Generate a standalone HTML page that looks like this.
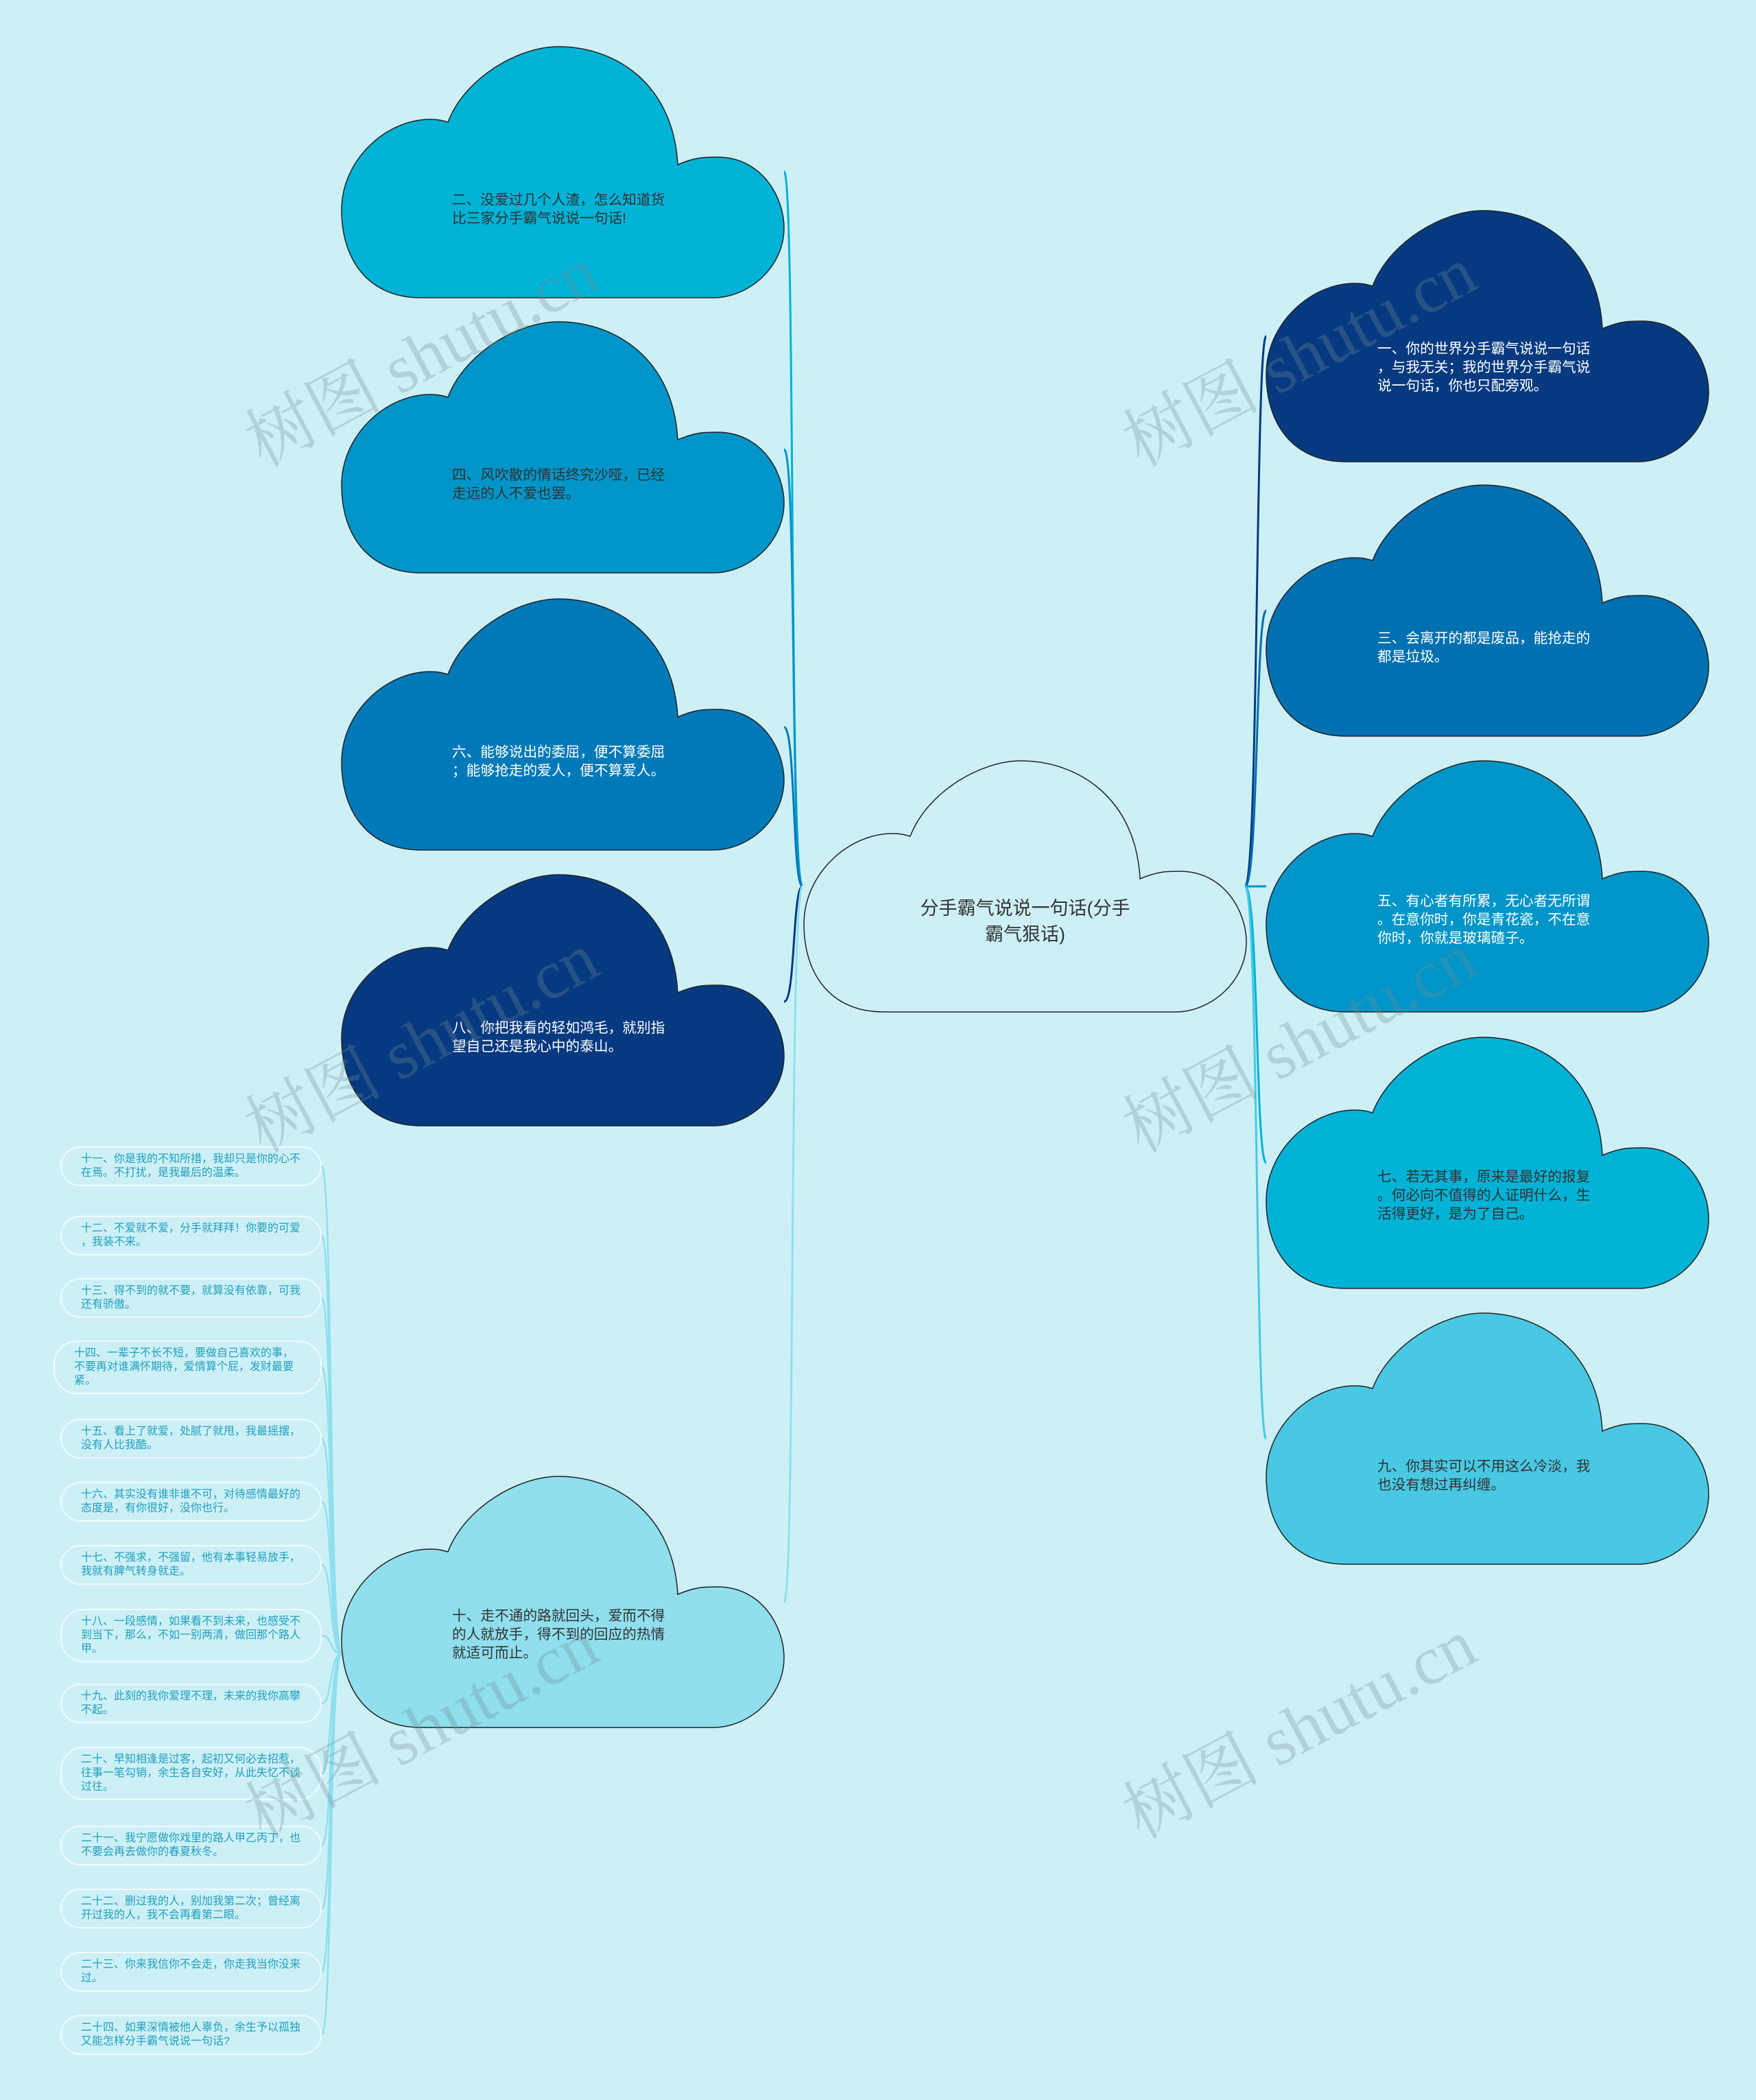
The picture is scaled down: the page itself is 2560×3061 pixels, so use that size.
<!DOCTYPE html>
<html><head><meta charset="utf-8"><style>
body{margin:0;background:#cdf0f7;}
#w{position:relative;width:2560px;height:3061px;overflow:hidden;background:#cdf0f7;font-family:"Liberation Sans","Noto Sans CJK SC",sans-serif;}
.t{position:absolute;font-size:20.7px;line-height:27px;white-space:nowrap;}
.li{position:absolute;left:88px;width:381px;box-sizing:border-box;border:2px solid #f2fbfd;border-radius:34px;color:#1f9fbd;font-size:16px;line-height:20px;padding:0 0 0 28px;display:flex;align-items:center;white-space:nowrap;}
.wm{position:absolute;font-family:"Liberation Serif","Noto Serif CJK SC",serif;font-size:100px;color:rgba(120,140,150,0.3);transform:rotate(-28deg);white-space:nowrap;}
</style></head><body><div id="w">
<svg width="2560" height="3061" style="position:absolute;left:0;top:0">
<defs>
<path id="cl" d="M155 110 C180 45 258 0 316 0 C400 0 484 55 490 172 C516 161 529 161 548 161 C613 161 645 220 645 264 C645 322 593 366 542 366 L116 366 C39 366 0 311 0 238 C0 165 65 106 129 106 C142 106 148 108 155 110 Z" stroke="#222" stroke-width="1.5"/>
</defs>
<g fill="none" stroke-width="3">
<path d="M1170 1292 C1150 1292 1160 250 1143 250" stroke="#00b2d6"/>
<path d="M1170 1292 C1152 1292 1162 655 1143 655" stroke="#0095c8"/>
<path d="M1170 1292 C1155 1292 1160 1060 1143 1060" stroke="#0079b8"/>
<path d="M1170 1292 C1155 1292 1160 1460 1143 1460" stroke="#063a80"/>
<path d="M1170 1292 C1150 1292 1160 2335 1143 2335" stroke="#8fdfee"/>
<path d="M1815 1292 C1835 1292 1830 490 1846 490" stroke="#063a80"/>
<path d="M1815 1292 C1835 1292 1830 890 1846 890" stroke="#0070b0"/>
<path d="M1815 1292 L1846 1292" stroke="#0095c8"/>
<path d="M1815 1292 C1835 1292 1830 1695 1846 1695" stroke="#00b2d6"/>
<path d="M1815 1292 C1835 1292 1830 2097 1846 2097" stroke="#48c8e3"/>
</g>
<g fill="none" stroke="#8fdfee" stroke-width="2.5">
<path d="M498 2410 C480 2410 485 1700 469 1700"/>
<path d="M498 2410 C480 2410 485 1801 469 1801"/>
<path d="M498 2410 C480 2410 485 1892 469 1892"/>
<path d="M498 2410 C480 2410 485 1993 469 1993"/>
<path d="M498 2410 C480 2410 485 2097 469 2097"/>
<path d="M498 2410 C480 2410 485 2189 469 2189"/>
<path d="M498 2410 C480 2410 485 2281 469 2281"/>
<path d="M498 2410 C480 2410 485 2384 469 2384"/>
<path d="M498 2410 C480 2410 485 2483 469 2483"/>
<path d="M498 2410 C480 2410 485 2585 469 2585"/>
<path d="M498 2410 C480 2410 485 2690 469 2690"/>
<path d="M498 2410 C480 2410 485 2782 469 2782"/>
<path d="M498 2410 C480 2410 485 2874 469 2874"/>
<path d="M498 2410 C480 2410 485 2966 469 2966"/>
</g>
<use href="#cl" x="498" y="68" fill="#00b2d6"/>
<use href="#cl" x="498" y="469" fill="#0095c8"/>
<use href="#cl" x="498" y="873" fill="#0079b8"/>
<use href="#cl" x="498" y="1275" fill="#063a80"/>
<use href="#cl" x="498" y="2152" fill="#8fdfee"/>
<use href="#cl" x="1846" y="307" fill="#063a80"/>
<use href="#cl" x="1846" y="707" fill="#0070b0"/>
<use href="#cl" x="1846" y="1109" fill="#0095c8"/>
<use href="#cl" x="1846" y="1512" fill="#00b2d6"/>
<use href="#cl" x="1846" y="1914" fill="#48c8e3"/>
<use href="#cl" x="1172" y="1109" fill="#cdf0f7"/>
</svg>
<div class="t" style="left:659px;top:278px;color:#333">二、没爱过几个人渣，怎么知道货<br>比三家分手霸气说说一句话!</div>
<div class="t" style="left:659px;top:679px;color:#333">四、风吹散的情话终究沙哑，已经<br>走远的人不爱也罢。</div>
<div class="t" style="left:659px;top:1083px;color:#fff">六、能够说出的委屈，便不算委屈<br>；能够抢走的爱人，便不算爱人。</div>
<div class="t" style="left:659px;top:1485px;color:#fff">八、你把我看的轻如鸿毛，就别指<br>望自己还是我心中的泰山。</div>
<div class="t" style="left:659px;top:2342px;color:#333">十、走不通的路就回头，爱而不得<br>的人就放手，得不到的回应的热情<br>就适可而止。</div>
<div class="t" style="left:2008px;top:495px;color:#fff">一、你的世界分手霸气说说一句话<br>，与我无关；我的世界分手霸气说<br>说一句话，你也只配旁观。</div>
<div class="t" style="left:2008px;top:917px;color:#fff">三、会离开的都是废品，能抢走的<br>都是垃圾。</div>
<div class="t" style="left:2008px;top:1300px;color:#fff">五、有心者有所累，无心者无所谓<br>。在意你时，你是青花瓷，不在意<br>你时，你就是玻璃碴子。</div>
<div class="t" style="left:2008px;top:1702px;color:#333">七、若无其事，原来是最好的报复<br>。何必向不值得的人证明什么，生<br>活得更好，是为了自己。</div>
<div class="t" style="left:2008px;top:2124px;color:#333">九、你其实可以不用这么冷淡，我<br>也没有想过再纠缠。</div>
<div class="t" style="left:1172px;width:645px;top:1305px;text-align:center;font-size:27px;line-height:38px;color:#333">分手霸气说说一句话(分手<br>霸气狠话)</div>
<div class="li" style="top:1671px;height:58px">十一、你是我的不知所措，我却只是你的心不<br>在焉。不打扰，是我最后的温柔。</div>
<div class="li" style="top:1772px;height:58px">十二、不爱就不爱，分手就拜拜！你要的可爱<br>，我装不来。</div>
<div class="li" style="top:1863px;height:58px">十三、得不到的就不要，就算没有依靠，可我<br>还有骄傲。</div>
<div class="li" style="top:1954px;height:78px;left:78px;width:391px;padding-left:28px">十四、一辈子不长不短，要做自己喜欢的事，<br>不要再对谁满怀期待，爱情算个屁，发财最要<br>紧。</div>
<div class="li" style="top:2068px;height:58px">十五、看上了就爱，处腻了就甩，我最摇摆，<br>没有人比我酷。</div>
<div class="li" style="top:2160px;height:58px">十六、其实没有谁非谁不可，对待感情最好的<br>态度是，有你很好，没你也行。</div>
<div class="li" style="top:2252px;height:58px">十七、不强求，不强留，他有本事轻易放手，<br>我就有脾气转身就走。</div>
<div class="li" style="top:2345px;height:78px">十八、一段感情，如果看不到未来，也感受不<br>到当下，那么，不如一别两清，做回那个路人<br>甲。</div>
<div class="li" style="top:2454px;height:58px">十九、此刻的我你爱理不理，未来的我你高攀<br>不起。</div>
<div class="li" style="top:2546px;height:78px">二十、早知相逢是过客，起初又何必去招惹，<br>往事一笔勾销，余生各自安好，从此失忆不谈<br>过往。</div>
<div class="li" style="top:2661px;height:58px">二十一、我宁愿做你戏里的路人甲乙丙丁，也<br>不要会再去做你的春夏秋冬。</div>
<div class="li" style="top:2753px;height:58px">二十二、删过我的人，别加我第二次；曾经离<br>开过我的人，我不会再看第二眼。</div>
<div class="li" style="top:2845px;height:58px">二十三、你来我信你不会走，你走我当你没来<br>过。</div>
<div class="li" style="top:2937px;height:58px">二十四、如果深情被他人辜负，余生予以孤独<br>又能怎样分手霸气说说一句话?</div>
<div class="wm" style="left:330px;top:440px">树图 shutu.cn</div>
<div class="wm" style="left:1610px;top:440px">树图 shutu.cn</div>
<div class="wm" style="left:330px;top:1440px">树图 shutu.cn</div>
<div class="wm" style="left:1610px;top:1440px">树图 shutu.cn</div>
<div class="wm" style="left:330px;top:2440px">树图 shutu.cn</div>
<div class="wm" style="left:1610px;top:2440px">树图 shutu.cn</div>
</div></body></html>
